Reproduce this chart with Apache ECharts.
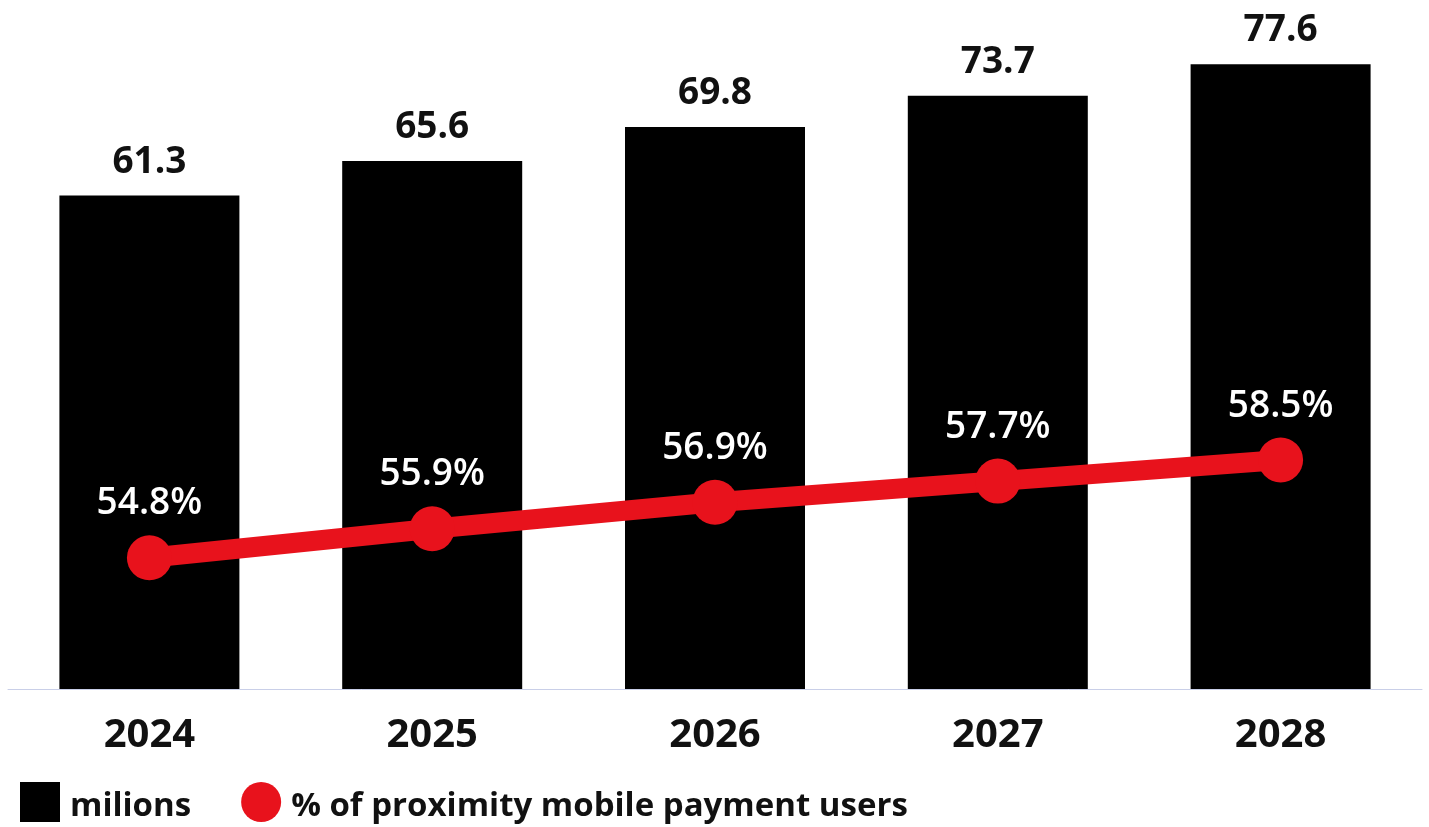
<!DOCTYPE html>
<html>
<head>
<meta charset="utf-8">
<script src="https://cdn.jsdelivr.net/npm/echarts@6/dist/echarts.min.js"></script>
<style>
html,body{margin:0;padding:0;background:#fff;}
#chart{width:1429px;height:827px;}
</style>
</head>
<body>
<div id="chart"></div>
<script>
const categories = ['2024', '2025', '2026', '2027', '2028'];
const millions = [61.3, 65.6, 69.8, 73.7, 77.6];
const userShare = [54.8, 55.9, 56.9, 57.7, 58.5];
const seriesNames = ['milions', '% of proximity mobile payment users'];

const FONT = '"Open Sans", Roboto, sans-serif';
const chart = echarts.init(document.getElementById('chart'), null, {renderer: 'canvas'});
chart.setOption({
  animation: false,
  backgroundColor: '#ffffff',
  grid: {left: 8, right: 7, top: 45, bottom: 138, containLabel: false},
  legend: {
    left: 20,
    top: 782,
    padding: 0,
    itemWidth: 40,
    itemHeight: 40,
    itemGap: 50,
    data: [
      {name: seriesNames[0], icon: 'rect'},
      {name: seriesNames[1], icon: 'circle'}
    ],
    formatter: name => '{t|' + name + '}',
    textStyle: {
      fontFamily: FONT,
      fontSize: 33,
      fontWeight: 'bold',
      color: '#111111',
      rich: {
        t: {
          fontFamily: FONT,
          fontSize: 33,
          fontWeight: 'bold',
          color: '#111111',
          padding: [9, 0, 0, 5]
        }
      }
    }
  },
  xAxis: {
    type: 'category',
    data: categories,
    axisLine: {show: true, lineStyle: {color: '#c9cfe8', width: 1}},
    axisTick: {show: false},
    axisLabel: {
      margin: 27,
      fontFamily: FONT,
      fontSize: 40,
      fontWeight: 'bold',
      color: '#111111'
    }
  },
  yAxis: [
    {type: 'value', min: 0, max: 80, show: false, splitLine: {show: false}},
    {type: 'value', min: 49.84, max: 74.19, show: false, splitLine: {show: false}}
  ],
  series: [
    {
      name: seriesNames[0],
      type: 'bar',
      yAxisIndex: 0,
      data: millions,
      barWidth: 180,
      itemStyle: {color: '#000000'},
      label: {
        show: true,
        position: 'top',
        distance: 15,
        fontFamily: FONT,
        fontSize: 37,
        fontWeight: 'bold',
        color: '#111111',
        formatter: p => p.value.toFixed(1)
      }
    },
    {
      name: seriesNames[1],
      type: 'line',
      yAxisIndex: 1,
      data: userShare,
      symbol: 'circle',
      symbolSize: 45,
      lineStyle: {color: '#e8121c', width: 20},
      itemStyle: {color: '#e8121c'},
      label: {
        show: true,
        position: 'top',
        distance: 13,
        fontFamily: FONT,
        fontSize: 37,
        fontWeight: 600,
        color: '#ffffff',
        formatter: p => p.value.toFixed(1) + '%'
      }
    }
  ]
});
</script>
</body>
</html>
